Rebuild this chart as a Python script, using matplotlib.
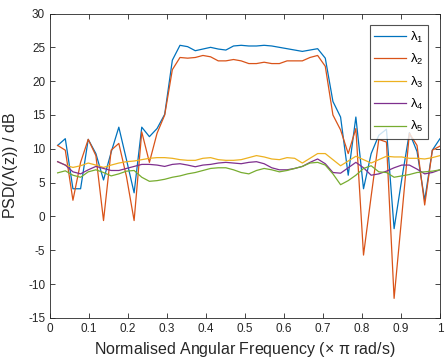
import numpy as np
import matplotlib
matplotlib.use("Agg")
import matplotlib.pyplot as plt

plt.rcParams['font.family'] = ['Liberation Sans', 'DejaVu Sans']
plt.rcParams['mathtext.fontset'] = 'custom'
plt.rcParams['mathtext.rm'] = 'Liberation Sans'
plt.rcParams['mathtext.it'] = 'Liberation Sans'
plt.rcParams['axes.unicode_minus'] = False

# normalised frequency grid (x pi rad/s)
freq = np.arange(1, 52) / 51

lam1 = [10.5, 11.5, 4.1, 4.1, 11.4, 9.3, 5.4, 9.5, 13.2, 8.4,
        3.5, 13.2, 11.8, 13.0, 15.1, 23.1, 25.3, 25.1, 24.5, 24.75,
        25.0, 24.75, 24.6, 25.2, 25.3, 25.2, 25.2, 25.3, 25.2, 25.0,
        24.8, 24.6, 24.4, 24.6, 24.8, 23.4, 17.0, 14.7, 6.1, 14.7,
        4.1, 9.3, 12.0, 12.9, -1.8, 5.5, 12.4, 9.6, 2.4, 9.8, 11.5]
lam2 = [10.5, 9.8, 2.4, 8.0, 11.4, 9.0, -0.6, 9.8, 10.8, 5.9,
        -0.6, 12.5, 8.0, 12.3, 15.0, 21.7, 23.5, 23.4, 23.5, 23.8,
        23.6, 23.0, 23.0, 23.2, 23.0, 22.6, 22.6, 22.8, 22.6, 22.6,
        23.0, 23.0, 23.0, 23.5, 23.8, 22.2, 15.0, 12.8, 9.3, 13.0,
        -5.7, 3.0, 11.4, 11.0, -12.1, 0.0, 12.3, 10.5, 1.7, 9.8, 10.4]
lam3 = [8.1, 7.6, 7.25, 7.5, 7.9, 7.6, 7.25, 7.6, 7.9, 8.1,
        8.2, 8.4, 8.6, 8.7, 8.7, 8.6, 8.4, 8.3, 8.3, 8.6,
        8.7, 8.4, 8.3, 8.3, 8.4, 8.7, 9.0, 8.8, 8.5, 8.4,
        8.7, 8.6, 7.9, 8.6, 9.3, 9.3, 8.4, 7.5, 8.2, 8.9,
        8.4, 7.9, 8.4, 8.9, 8.8, 8.8, 8.6, 8.6, 8.5, 8.7, 9.0]
lam4 = [8.1, 7.6, 6.6, 6.3, 6.9, 7.4, 7.1, 6.8, 6.8, 7.1,
        7.4, 7.7, 7.7, 7.6, 7.4, 7.7, 7.8, 7.6, 7.35, 7.6,
        7.7, 7.9, 8.0, 7.9, 7.8, 8.0, 8.1, 7.8, 7.2, 6.9,
        6.9, 7.1, 7.4, 8.0, 8.5, 7.8, 6.5, 6.4, 7.2, 8.0,
        7.2, 6.1, 6.3, 6.7, 7.2, 7.6, 7.6, 7.0, 6.3, 6.5, 6.9]
lam5 = [6.45, 6.75, 6.1, 5.8, 6.6, 6.9, 6.5, 6.0, 6.3, 6.7,
        6.8, 5.8, 5.2, 5.3, 5.5, 5.8, 6.0, 6.3, 6.5, 6.8,
        7.1, 7.2, 7.2, 6.9, 6.5, 6.3, 6.8, 7.1, 6.9, 6.6,
        6.8, 7.1, 7.4, 7.9, 8.0, 7.6, 6.3, 4.7, 5.3, 6.1,
        7.1, 7.5, 6.6, 6.5, 5.8, 6.0, 6.2, 6.5, 6.6, 6.7, 6.9]

series = [lam1, lam2, lam3, lam4, lam5]
labels = [r'$\lambda_1$', r'$\lambda_2$', r'$\lambda_3$', r'$\lambda_4$', r'$\lambda_5$']
colors = ['#0072BD', '#D95319', '#EDB120', '#7E2F8E', '#77AC30']

fig = plt.figure(figsize=(4.48, 3.64), dpi=100)
ax = fig.add_axes([0.1116, 0.1264, 0.8705, 0.8365])

for y, lab, c in zip(series, labels, colors):
    ax.plot(freq, y, color=c, lw=0.9, label=lab)

ax.set_xlim(0, 1)
ax.set_ylim(-15, 30)
ax.set_xticks(np.arange(0, 1.01, 0.1))
ax.set_xticklabels(['0', '0.1', '0.2', '0.3', '0.4', '0.5', '0.6', '0.7', '0.8', '0.9', '1'])
ax.set_yticks(np.arange(-15, 31, 5))

ax.tick_params(direction='in', top=True, right=True, labelsize=8.5,
               colors='#262626', length=3.5, width=0.6)
for s in ax.spines.values():
    s.set_color('#262626')
    s.set_linewidth(0.6)

ax.set_xlabel(r'Normalised Angular Frequency ($\times$ $\pi$ rad/s)', fontsize=11.5, color='#262626')
ax.set_ylabel(r'PSD($\Lambda$(z)) / dB', fontsize=11.5, color='#262626', labelpad=6)

leg = ax.legend(loc='upper right', fontsize=9.5, frameon=True, fancybox=False,
                edgecolor='#262626', handlelength=2.4, handletextpad=0.3,
                borderpad=0.35, borderaxespad=0, labelspacing=0.55,
                bbox_to_anchor=(0.969, 0.962))
leg.get_frame().set_linewidth(0.8)

fig.savefig('out.png', dpi=100)
